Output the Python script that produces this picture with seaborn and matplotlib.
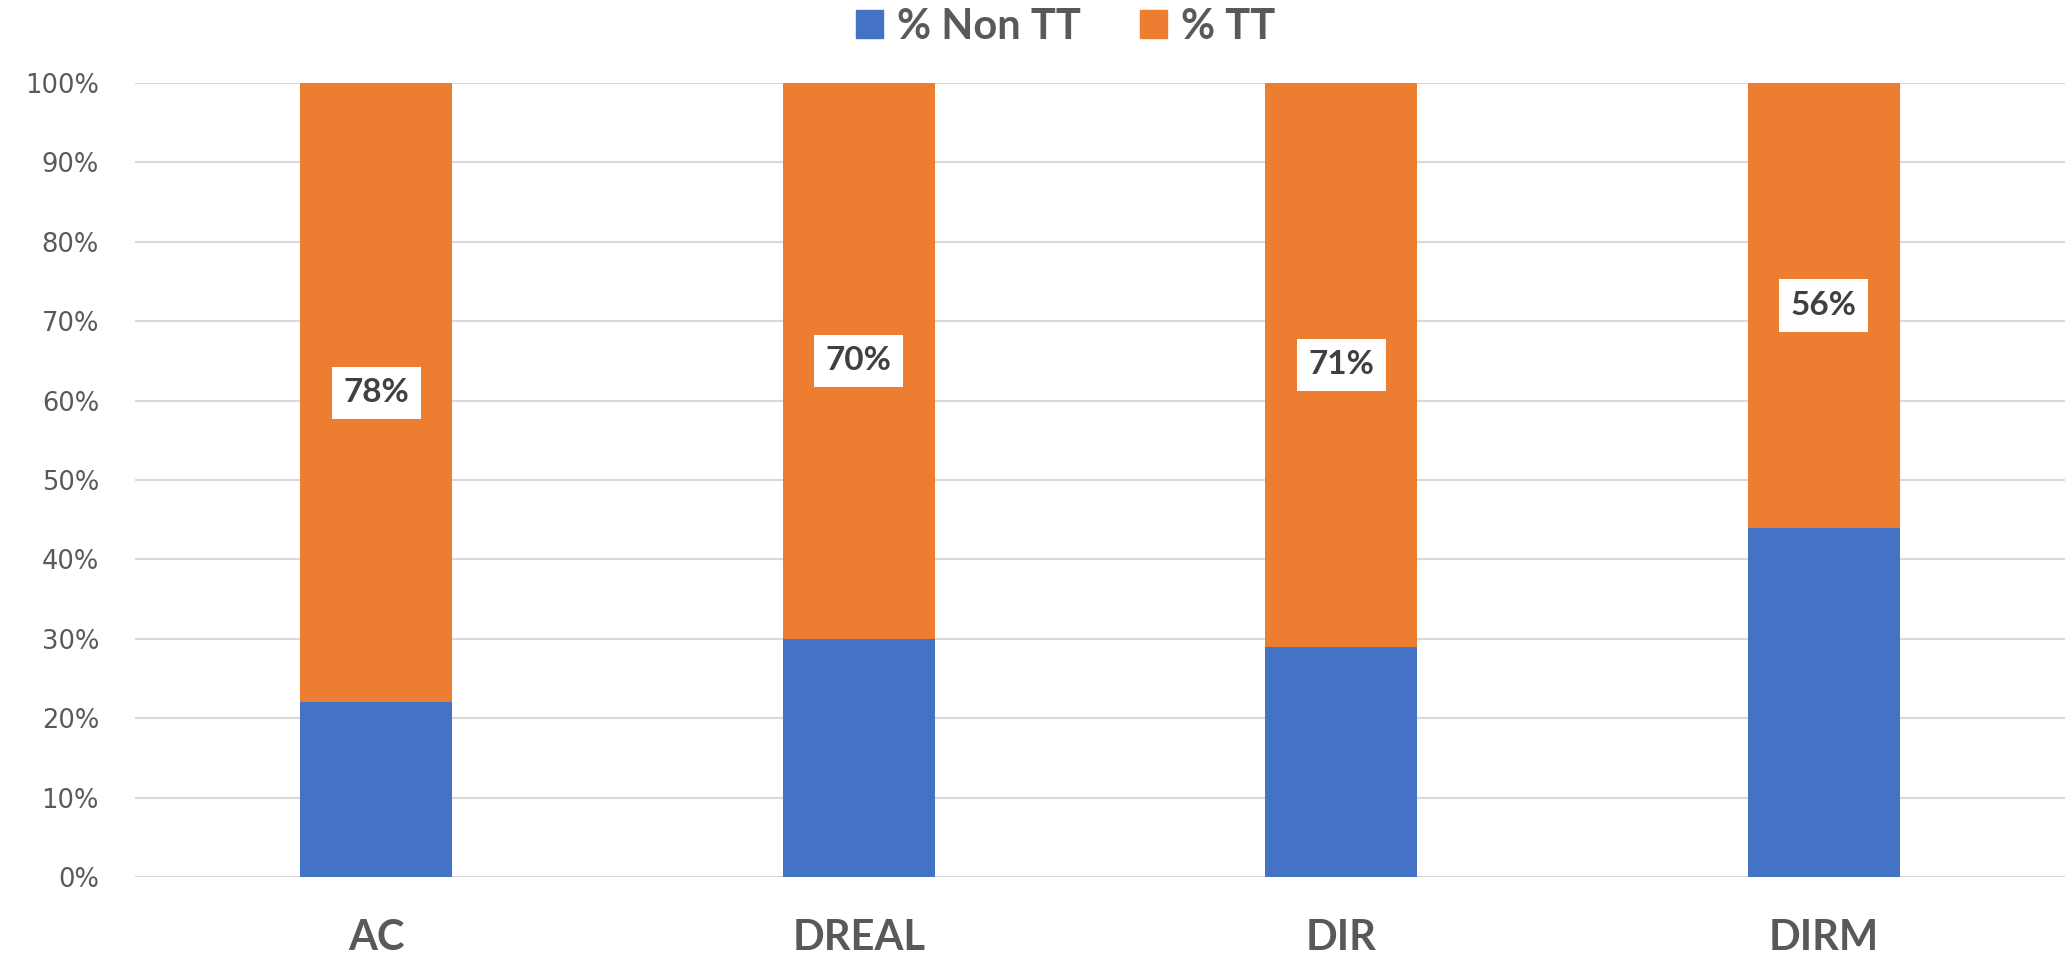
import pandas as pd
import seaborn as sns
import matplotlib.pyplot as plt
from matplotlib.patches import Patch

# Data
services = ["AC", "DREAL", "DIR", "DIRM"]
pct_non_tt = [22, 30, 29, 44]
pct_tt = [78, 70, 71, 56]

df = pd.DataFrame({"service": services, "non_tt": pct_non_tt, "tt": pct_tt})
df["total"] = df["non_tt"] + df["tt"]

blue = "#4472C4"
orange = "#ED7D31"

sns.set_style("white")
plt.rcParams["font.family"] = ["DejaVu Sans"]

fig = plt.figure(figsize=(20.65, 9.6), dpi=100)
ax = fig.add_axes([0.0654, 0.0865, 0.9346, 0.827])

# stacked bars: orange full height behind, blue part on top
sns.barplot(data=df, x="service", y="total", color=orange, width=0.315,
            saturation=1, linewidth=0, ax=ax, zorder=2)
sns.barplot(data=df, x="service", y="non_tt", color=blue, width=0.315,
            saturation=1, linewidth=0, ax=ax, zorder=3)

# data labels for % TT
for i, row in df.iterrows():
    ax.text(i, row["non_tt"] + row["tt"] / 2, f"{row['tt']}%",
            ha="center", va="center", fontsize=24, fontweight="bold",
            family=["Lato", "DejaVu Sans"], color="#404040", zorder=5,
            bbox=dict(boxstyle="square,pad=0.35", fc="white", ec="none"))

ax.set_ylim(0, 100)
ax.set_xlim(-0.5, 3.5)
ax.set_yticks(range(0, 101, 10))
ax.set_yticklabels([f"{v}%" for v in range(0, 101, 10)])
ax.yaxis.grid(True, color="#D9D9D9", linewidth=1.5, zorder=0)
ax.set_axisbelow(True)
for s in ax.spines.values():
    s.set_visible(False)
ax.set_xlabel("")
ax.set_ylabel("")
ax.tick_params(axis="y", length=0, pad=26, labelsize=18.5, labelcolor="#595959")
ax.tick_params(axis="x", length=0, pad=30, labelsize=30, labelcolor="#595959")
for lab in ax.get_xticklabels():
    lab.set_fontweight("bold")
    lab.set_family(["Lato", "DejaVu Sans"])

handles = [Patch(color=blue, label="% Non TT"), Patch(color=orange, label="% TT")]
leg = fig.legend(handles=handles, loc="center", bbox_to_anchor=(0.516, 0.972),
                 ncol=2, frameon=False, handlelength=0.65, handleheight=0.65,
                 handletextpad=0.35, columnspacing=1.4,
                 prop={"family": ["Lato", "DejaVu Sans"], "weight": "bold", "size": 30})
for t in leg.get_texts():
    t.set_color("#595959")

fig.savefig("out.png", dpi=100)
